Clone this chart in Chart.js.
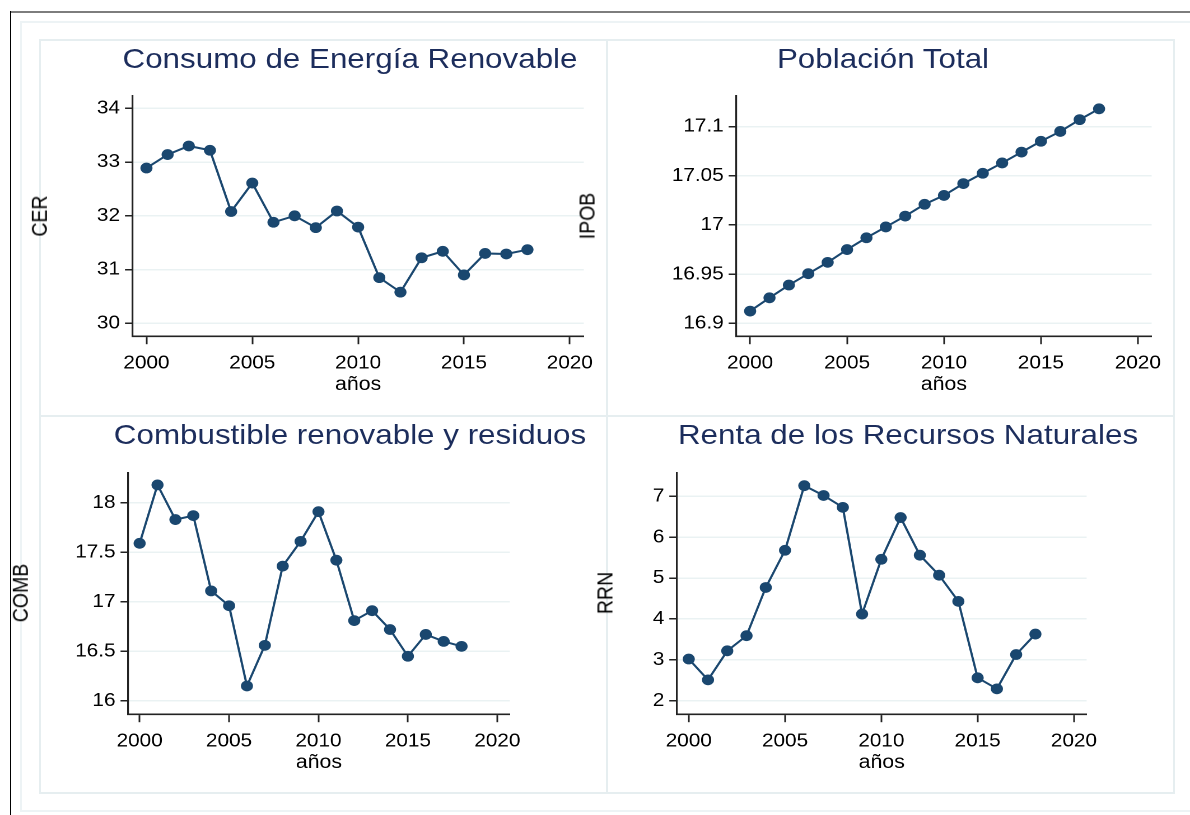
<!DOCTYPE html>
<html>
<head>
<meta charset="utf-8">
<script src="https://cdn.jsdelivr.net/npm/chart.js@4.4.1/dist/chart.umd.min.js"></script>
<style>
  html, body { margin: 0; padding: 0; background: #fff; width: 1190px; height: 815px; overflow: hidden; }
  body { position: relative; font-family: "Liberation Sans", Arial, sans-serif; }
  .frame { position: absolute; box-sizing: border-box; }
  #stage { position: absolute; left: 0; top: 0; width: 1100px; height: 815px; transform: scaleX(1.12); transform-origin: 0 0; }
  #stage canvas { position: absolute; }
  .ttl { position: absolute; white-space: nowrap; font-size: 28px; line-height: 28px; color: #1c2d5c; transform: translateX(-50%); }
  .ytl { position: absolute; white-space: nowrap; font-size: 19.5px; line-height: 20px; color: #000; transform: translate(-50%, -50%) rotate(-90deg); }
</style>
</head>
<body>
<div id="frames"></div>
<div id="stage"></div>
<script>
// ---------- data ----------
const years = [2000, 2001, 2002, 2003, 2004, 2005, 2006, 2007, 2008, 2009, 2010, 2011, 2012, 2013, 2014, 2015, 2016, 2017, 2018];
const cerValues  = [32.89, 33.14, 33.30, 33.22, 32.08, 32.61, 31.88, 32.00, 31.78, 32.09, 31.79, 30.85, 30.58, 31.22, 31.34, 30.90, 31.30, 31.29, 31.37];
const ipobValues = [16.9125, 16.926, 16.939, 16.9505, 16.962, 16.975, 16.987, 16.998, 17.009, 17.021, 17.030, 17.042, 17.0525, 17.063, 17.074, 17.085, 17.095, 17.107, 17.118];
const combValues = [17.59, 18.18, 17.83, 17.87, 17.11, 16.96, 16.15, 16.56, 17.36, 17.61, 17.91, 17.42, 16.81, 16.91, 16.72, 16.45, 16.67, 16.60, 16.55];
const rrnValues  = [3.02, 2.51, 3.22, 3.59, 4.77, 5.68, 7.26, 7.02, 6.73, 4.12, 5.46, 6.48, 5.56, 5.07, 4.43, 2.56, 2.29, 3.13, 3.63];

const xTicks = [2000, 2005, 2010, 2015, 2020];
const xTickLabels = ['2000', '2005', '2010', '2015', '2020'];
const cerTicks = [30, 31, 32, 33, 34];
const cerTickLabels = ['30', '31', '32', '33', '34'];
const ipobTicks = [16.9, 16.95, 17, 17.05, 17.1];
const ipobTickLabels = ['16.9', '16.95', '17', '17.05', '17.1'];
const combTicks = [16, 16.5, 17, 17.5, 18];
const combTickLabels = ['16', '16.5', '17', '17.5', '18'];
const rrnTicks = [2, 3, 4, 5, 6, 7];
const rrnTickLabels = ['2', '3', '4', '5', '6', '7'];

const titles = ['Consumo de Energía Renovable', 'Población Total', 'Combustible renovable y residuos', 'Renta de los Recursos Naturales'];
const yTitles = ['CER', 'IPOB', 'COMB', 'RRN'];
const xTitle = 'años';

// ---------- layout (reference pixel coordinates) ----------
const S = 1.12;               // horizontal stretch of the reference
const LINE = '#1a476f';
const GRID = '#eaf2f3';
const panels = [
  { AL: 133,   AR: 584,    AT: 96,  AB: 336, xr: [1999.34, 2020.66], yr: [29.76, 34.23],   vals: cerValues,  ticks: cerTicks,  labels: cerTickLabels,  tc: 350, tb: 68.3,  yt: [39, 216] },
  { AL: 736,   AR: 1151,   AT: 96,  AB: 336, xr: [1999.28, 2020.71], yr: [16.887, 17.131], vals: ipobValues, ticks: ipobTicks, labels: ipobTickLabels, tc: 883, tb: 68.3,  yt: [586.7, 215.8] },
  { AL: 127.7, AR: 509.3,  AT: 473, AB: 714, xr: [1999.35, 2020.70], yr: [15.865, 18.30],  vals: combValues, ticks: combTicks, labels: combTickLabels, tc: 350, tb: 444.5, yt: [20.3, 592.7] },
  { AL: 677.3, AR: 1086.7, AT: 473, AB: 714, xr: [1999.38, 2020.66], yr: [1.67, 7.57],     vals: rrnValues,  ticks: rrnTicks,  labels: rrnTickLabels,  tc: 908, tb: 444.5, yt: [605, 592.8] }
];

// ---------- frames ----------
const frames = document.getElementById('frames');
function box(l, t, w, h, css) {
  const d = document.createElement('div');
  d.className = 'frame';
  d.style.cssText = `left:${l}px;top:${t}px;width:${w}px;height:${h}px;` + css;
  frames.appendChild(d);
}
box(10, 11, 1190, 2, 'background:#7d7d7d;');
box(10, 11, 1, 810, 'background:#000;');
box(20, 21, 1190, 791, 'border:2px solid #edf3f5;');
box(39, 39, 569, 378, 'border:2px solid #e6eef0;');
box(606, 39, 569, 378, 'border:2px solid #e6eef0;');
box(39, 415, 569, 379, 'border:2px solid #e6eef0;');
box(606, 415, 569, 379, 'border:2px solid #e6eef0;');

// ---------- charts ----------
const stage = document.getElementById('stage');
const Y_W = 100;   // reference px left of the y axis inside canvas
const PAD_T = 20, PAD_R = 30;
const X_H = 59.8;  // height of x-axis box (reference px)

panels.forEach((p, i) => {
  const cl = p.AL - Y_W, ct = p.AT - PAD_T, cr = p.AR + PAD_R, cb = p.AB + X_H;
  const cv = document.createElement('canvas');
  const w = (cr - cl) / S, h = cb - ct;
  cv.width = Math.round(w); cv.height = Math.round(h);
  cv.style.left = (cl / S) + 'px';
  cv.style.top = ct + 'px';
  stage.appendChild(cv);

  const t = document.createElement('div');
  t.className = 'ttl';
  t.textContent = titles[i];
  t.style.left = (p.tc / S) + 'px';
  t.style.top = (p.tb - 23.7) + 'px';
  stage.appendChild(t);

  const yl = document.createElement('div');
  yl.className = 'ytl';
  yl.textContent = yTitles[i];
  yl.style.left = (p.yt[0] / S) + 'px';
  yl.style.top = p.yt[1] + 'px';
  stage.appendChild(yl);

  const tickFont = { family: '"Liberation Sans", Arial, sans-serif', size: 18.5 };
  new Chart(cv, {
    type: 'line',
    data: {
      datasets: [{
        data: years.map((yr, k) => ({ x: yr, y: p.vals[k] })),
        borderColor: LINE,
        backgroundColor: LINE,
        borderWidth: 2,
        pointRadius: 5.4,
        pointHoverRadius: 5.4,
        pointBackgroundColor: LINE,
        pointBorderColor: LINE,
        pointBorderWidth: 0,
        tension: 0,
        fill: false,
        clip: false
      }]
    },
    options: {
      responsive: false,
      animation: false,
      devicePixelRatio: 2,
      layout: { padding: { top: PAD_T, right: (cr - p.AR) / S, left: 0, bottom: 0 } },
      plugins: { legend: { display: false }, title: { display: false }, tooltip: { enabled: false } },
      events: [],
      scales: {
        x: {
          type: 'linear',
          min: p.xr[0], max: p.xr[1],
          afterBuildTicks: s => { s.ticks = xTicks.map(v => ({ value: v })); },
          afterFit: s => { s.height = X_H; },
          ticks: { autoSkip: false, maxRotation: 0, padding: 8, color: '#000', font: tickFont,
                   callback: (v, k) => xTickLabels[k] },
          grid: { drawOnChartArea: false, tickLength: 8, tickColor: '#222', tickWidth: 1.5 },
          border: { color: '#222', width: 1.6 },
          title: { display: true, text: xTitle, color: '#000', padding: { top: 0, bottom: 0 },
                   font: { family: '"Liberation Sans", Arial, sans-serif', size: 19 } }
        },
        y: {
          type: 'linear',
          min: p.yr[0], max: p.yr[1],
          afterBuildTicks: s => { s.ticks = p.ticks.map(v => ({ value: v })); },
          afterFit: s => { s.width = Y_W / S; },
          ticks: { autoSkip: false, padding: 5 / S, color: '#000', font: tickFont,
                   callback: (v, k) => p.labels[k] },
          grid: { color: GRID, lineWidth: 1.5, tickLength: 7.5 / S, tickColor: '#222', tickWidth: 1.5 },
          border: { color: '#222', width: 1.6 }
        }
      }
    }
  });
});
</script>
</body>
</html>
